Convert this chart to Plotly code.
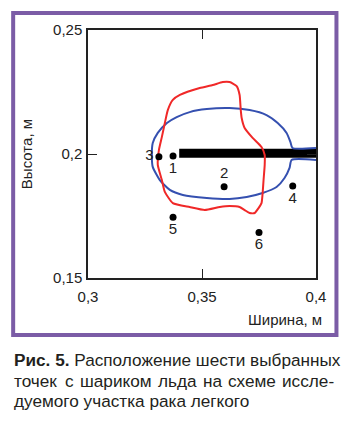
import plotly.graph_objects as go

# ---- data ----
blue_x = [0.4, 0.3897, 0.3888, 0.3871, 0.3832, 0.3783, 0.3709, 0.3621, 0.3521, 0.3446,
          0.3389, 0.3346, 0.3306, 0.3284, 0.3280, 0.3284, 0.3315, 0.3359, 0.3416, 0.3521,
          0.3621, 0.3696, 0.3766, 0.3827, 0.3862, 0.3884, 0.3893, 0.4]
blue_y = [0.2024, 0.2024, 0.2048, 0.2085, 0.2125, 0.2157, 0.2177, 0.2185, 0.2181, 0.2169,
          0.2149, 0.2125, 0.2085, 0.2044, 0.1988, 0.1948, 0.1895, 0.1855, 0.1835, 0.1823,
          0.1819, 0.1827, 0.1843, 0.1867, 0.1903, 0.1944, 0.1976, 0.1976]

red_x = [0.3306, 0.3311, 0.3324, 0.3337, 0.3350, 0.3372, 0.3403, 0.3490, 0.3547, 0.3591,
         0.3621, 0.3652, 0.3665, 0.3670, 0.3674, 0.3687, 0.3722, 0.3761, 0.3775, 0.3775,
         0.3770, 0.3766, 0.3761, 0.3748, 0.3731, 0.3709, 0.3687, 0.3665, 0.3621, 0.3578,
         0.3512, 0.3446, 0.3372, 0.3337, 0.3324, 0.3306]
red_y = [0.1956, 0.2016, 0.2069, 0.2125, 0.2177, 0.2218, 0.2238, 0.2266, 0.2278, 0.2290,
         0.2290, 0.2274, 0.2238, 0.2177, 0.2145, 0.2105, 0.2065, 0.2028, 0.1996, 0.1956,
         0.1895, 0.1843, 0.1802, 0.1782, 0.1762, 0.1762, 0.1774, 0.1786, 0.1790, 0.1786,
         0.1774, 0.1786, 0.1802, 0.1847, 0.1895, 0.1956]

bar_x = [0.34, 0.4]
bar_y = [0.2003, 0.2003]

point_labels = ["1", "2", "3", "4", "5", "6"]
point_x = [0.3373, 0.3597, 0.3311, 0.3898, 0.3373, 0.3750]
point_y = [0.1992, 0.1868, 0.1989, 0.1871, 0.1745, 0.1683]
point_textpos = ["bottom center", "top center", "middle left",
                 "bottom center", "bottom center", "bottom center"]

x_ticks = [0.3, 0.35, 0.4]
x_ticktext = ["0,3", "0,35", "0,4"]
y_ticks = [0.15, 0.2, 0.25]
y_ticktext = ["0,15", "0,2", "0,25"]

x_title = "Ширина, м"
y_title = "Высота, м"
caption_line1 = "<b>Рис. 5.</b> Расположение шести выбранных"
caption_line2_words = ["точек", "с", "шариком", "льда", "на", "схеме", "иссле-"]
caption_line3 = "дуемого участка рака легкого"

FONT = "Liberation Sans, Arial, sans-serif"
CAP_SIZE = 17.2
W, H = 348, 424
L, R, T, B = 88, 316.5, 30, 278  # plot area in px


def px(xp):
    return (xp - L) / (R - L)


def py(yp):
    return (B - yp) / (B - T)


fig = go.Figure()
fig.add_trace(go.Scatter(x=bar_x, y=bar_y, mode="lines",
                         line=dict(color="black", width=9), hoverinfo="skip"))
fig.add_trace(go.Scatter(x=blue_x, y=blue_y, mode="lines",
                         line=dict(color="#3550B0", width=2, shape="spline", smoothing=0.6)))
fig.add_trace(go.Scatter(x=red_x, y=red_y, mode="lines",
                         line=dict(color="#F02828", width=2, shape="spline", smoothing=0.5)))
fig.add_trace(go.Scatter(x=point_x, y=point_y, mode="markers+text",
                         text=point_labels, textposition=point_textpos,
                         textfont=dict(family=FONT, size=15, color="#222"),
                         marker=dict(color="black", size=7)))

axis_common = dict(showgrid=False, zeroline=False, showline=True, mirror="ticks",
                   linecolor="#222", linewidth=1.5, ticks="inside", ticklen=9,
                   tickwidth=1.2, tickcolor="#222",
                   tickfont=dict(family=FONT, size=15, color="#222"))
fig.update_xaxes(range=[0.3, 0.4], tickvals=x_ticks, ticktext=x_ticktext,
                 ticklabelstandoff=4, **axis_common)
fig.update_yaxes(range=[0.15, 0.25], tickvals=y_ticks, ticktext=y_ticktext,
                 ticklabelstandoff=1, **axis_common)

cap_font = dict(family=FONT, size=CAP_SIZE, color="#231f20")
annotations = [
    dict(xref="paper", yref="paper", x=px(325), y=py(319), text=x_title,
         xanchor="right", yanchor="middle", showarrow=False,
         font=dict(family=FONT, size=15, color="#222")),
    dict(xref="paper", yref="paper", x=px(26), y=py(154), text=y_title,
         textangle=-90, xanchor="center", yanchor="middle", showarrow=False,
         font=dict(family=FONT, size=15, color="#222")),
    dict(xref="paper", yref="paper", x=px(12), y=py(360), text=caption_line1,
         xanchor="left", yanchor="middle", showarrow=False, font=cap_font),
    dict(xref="paper", yref="paper", x=px(12), y=py(401), text=caption_line3,
         xanchor="left", yanchor="middle", showarrow=False, font=cap_font),
]
# justified second caption line: word left edges (px)
line2_left = [12, 63, 78, 156.5, 201, 226]
for word, xl in zip(caption_line2_words[:-1], line2_left):
    annotations.append(dict(xref="paper", yref="paper", x=px(xl), y=py(380.5), text=word,
                            xanchor="left", yanchor="middle", showarrow=False,
                            font=cap_font))
annotations.append(dict(xref="paper", yref="paper", x=px(337), y=py(380.5),
                        text=caption_line2_words[-1], xanchor="right", yanchor="middle",
                        showarrow=False, font=cap_font))

fig.update_layout(
    width=W, height=H,
    margin=dict(l=L, r=W - R, t=T, b=H - B, pad=0),
    paper_bgcolor="white", plot_bgcolor="white",
    showlegend=False,
    annotations=annotations,
    shapes=[dict(type="rect", xref="paper", yref="paper",
                 x0=px(13), x1=px(337), y0=py(335), y1=py(13),
                 line=dict(color="#7B5CA6", width=4), layer="below")],
)

fig.write_html("out.html")
